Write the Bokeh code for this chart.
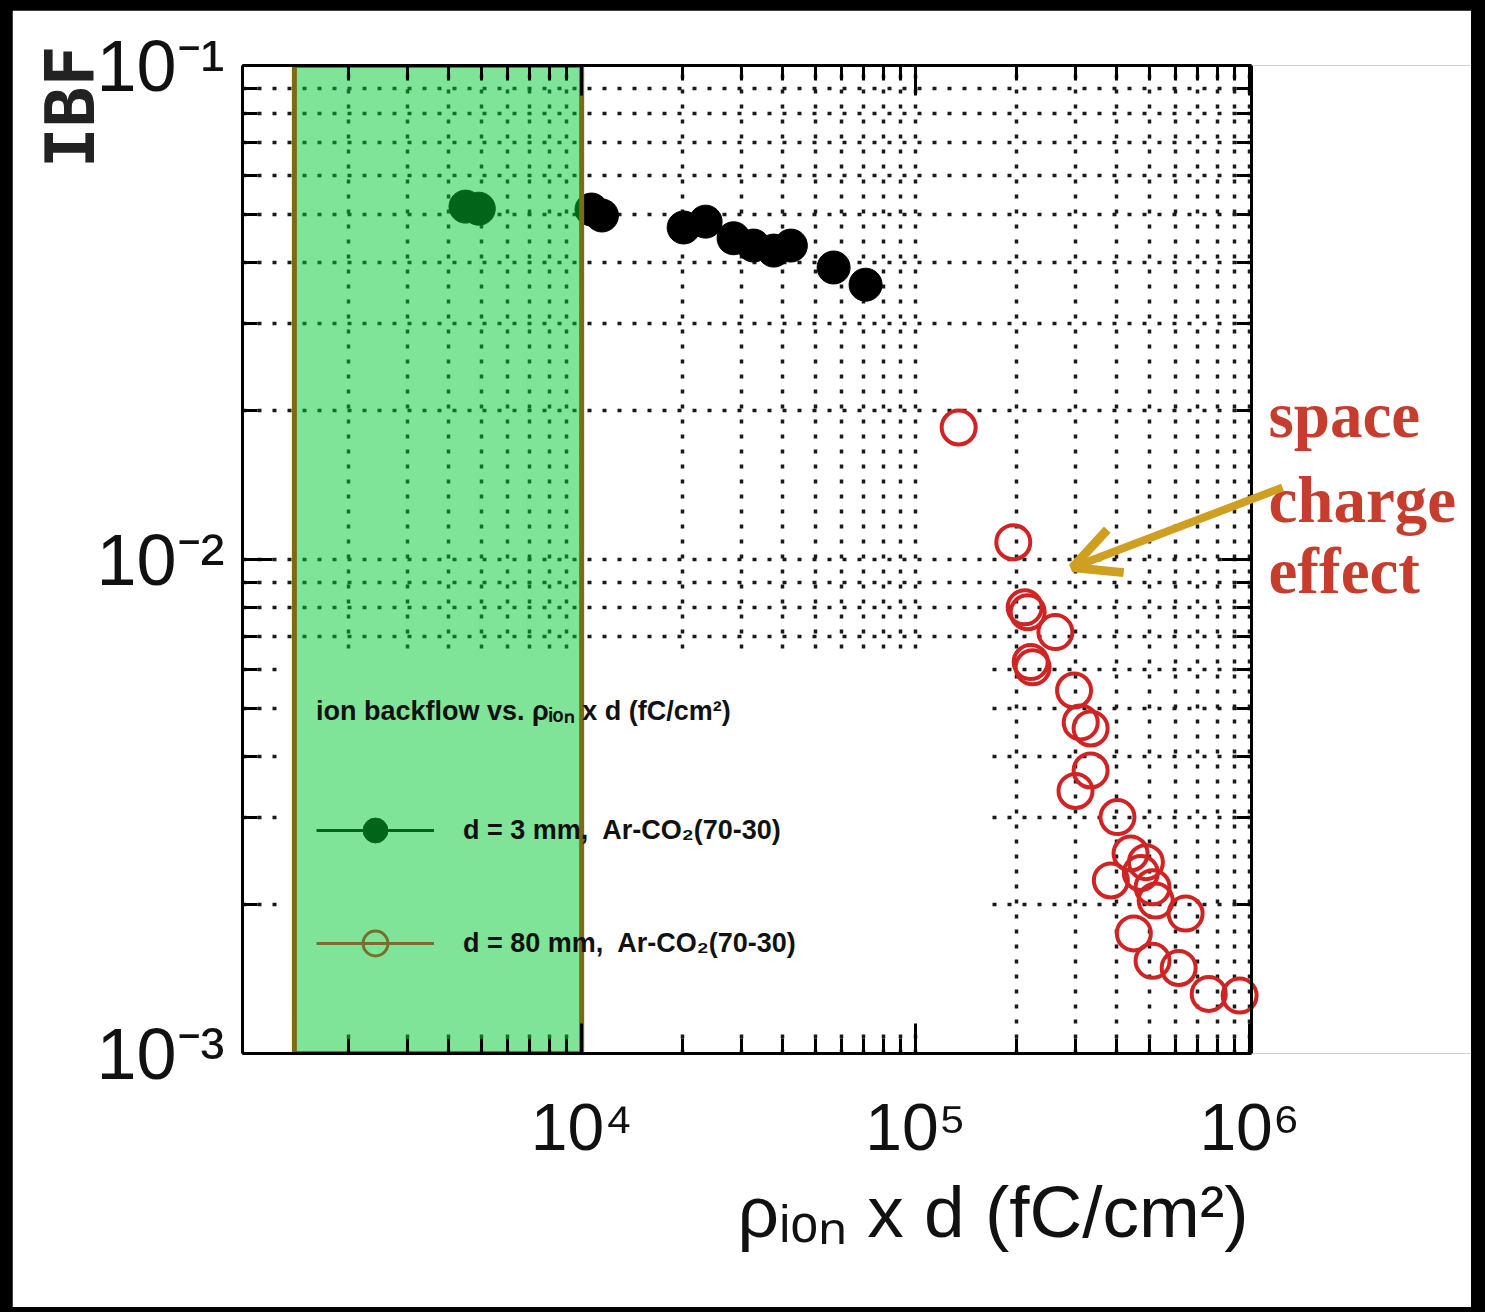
import math
from bokeh.plotting import figure
from bokeh.models import (Range1d, FixedTicker, CustomJSTickFormatter, LogAxis,
                          Legend, LegendItem, Title, Label, Arrow, OpenHead,
                          BoxAnnotation)
from bokeh.layouts import column
from bokeh.embed import file_html
from bokeh.resources import INLINE

# ---------------- data ----------------
# d = 3 mm, Ar-CO2 (70-30)  -> filled markers
rho_d_3mm = [4.49e3, 4.92e3, 1.07e4, 1.15e4, 2.02e4, 2.35e4, 2.85e4, 3.27e4,
             3.76e4, 4.23e4, 5.68e4, 7.08e4]
ibf_3mm = [0.0518, 0.0513, 0.0511, 0.0497, 0.0470, 0.0483, 0.0447, 0.0432,
           0.0422, 0.0432, 0.0390, 0.0360]

# d = 80 mm, Ar-CO2 (70-30) -> open markers
rho_d_80mm = [1.345e5, 1.96e5, 2.12e5, 2.165e5, 2.62e5, 2.21e5, 2.24e5, 2.98e5,
              3.12e5, 3.34e5, 3.34e5, 3.01e5, 4.02e5, 4.40e5, 4.89e5, 4.72e5,
              3.84e5, 5.12e5, 5.23e5, 6.43e5, 4.50e5, 5.12e5, 6.13e5, 7.54e5,
              9.33e5]
ibf_80mm = [0.0185, 0.01084, 0.0080, 0.00782, 0.00713, 0.0062, 0.00605, 0.00543,
            0.00468, 0.00455, 0.00374, 0.0034, 0.00301, 0.00254, 0.00244, 0.00232,
            0.00224, 0.00217, 0.00204, 0.00192, 0.00175, 0.00154, 0.00149, 0.00132,
            0.00131]

# highlighted band (x extent)
band_x = [1380, 1.0e4]

# axis extents of the drawn box
x_lo, x_hi_axis = 965, 1.015e6
y_lo, y_hi = 1e-3, 1e-1

x_major = [1e4, 1e5, 1e6]
x_minor = [k * 10 ** n for n in (3, 4, 5) for k in range(2, 10)]
y_major = [1e-3, 1e-2, 1e-1]
y_minor = [k * 10 ** n for n in (-3, -2) for k in range(2, 10)]

legend_title = "ion backflow vs. \u03c1\u1d62\u2092\u2099 x d (fC/cm\u00b2)"
label_3mm = "d = 3 mm,  Ar-CO\u2082(70-30)"
label_80mm = "d = 80 mm,  Ar-CO\u2082(70-30)"
x_title = "\u03c1\u1d62\u2092\u2099 x d (fC/cm\u00b2)"
y_title = "IBF"
note_lines = ["space", "charge", "effect"]

NAN = float("nan")

# ---------------- geometry ----------------
PAD_T, PAD_R, PAD_B, PAD_L = 10, 14, 5, 12
FIG_W, FIG_H = 1485 - PAD_L - PAD_R, 1312 - PAD_T - PAD_B
B_LEFT, B_RIGHT, B_TOP, B_BOTTOM = 242 - PAD_L, 0, 65 - PAD_T, 1312 - PAD_B - 1053
FRAME_W = FIG_W - B_LEFT - B_RIGHT
DECADE_PX = 334.0
x_hi_frame = 10 ** (math.log10(x_lo) + FRAME_W / DECADE_PX)

p = figure(width=FIG_W, height=FIG_H, x_axis_type="log", y_axis_type="log",
           x_range=Range1d(x_lo, x_hi_frame), y_range=Range1d(y_lo, y_hi),
           output_backend="svg", toolbar_location=None, title=None,
           min_border_left=B_LEFT, min_border_right=B_RIGHT,
           min_border_top=B_TOP, min_border_bottom=B_BOTTOM)
p.background_fill_color = "white"
p.border_fill_color = "white"
p.outline_line_color = None

xt = FixedTicker(ticks=x_major, minor_ticks=x_minor)
yt = FixedTicker(ticks=y_major, minor_ticks=y_minor)

fmt = CustomJSTickFormatter(code="""
const sup = {"-": "\\u207b", "0": "\\u2070", "1": "\\u00b9", "2": "\\u00b2", "3": "\\u00b3",
             "4": "\\u2074", "5": "\\u2075", "6": "\\u2076", "7": "\\u2077", "8": "\\u2078", "9": "\\u2079"};
const e = Math.round(Math.log10(tick));
let s = "";
for (const c of String(e)) { s += sup[c]; }
return "10" + s;
""")
blank = CustomJSTickFormatter(code="return '';")

def style_axis(ax):
    ax.axis_line_color = "black"
    ax.axis_line_width = 3
    ax.major_tick_in = 30
    ax.major_tick_out = 0
    ax.minor_tick_in = 15
    ax.minor_tick_out = 0
    ax.major_tick_line_color = "black"
    ax.major_tick_line_width = 3
    ax.minor_tick_line_color = "black"
    ax.minor_tick_line_width = 3
    ax.major_label_text_font = "Liberation Sans"
    ax.major_label_text_color = "#111111"

xa = p.xaxis[0]
xa.ticker = xt
xa.formatter = fmt
xa.bounds = (x_lo, x_hi_axis)
style_axis(xa)
xa.major_label_text_font_size = "66px"
xa.major_label_standoff = 36

ya = p.yaxis[0]
ya.ticker = yt
ya.formatter = fmt
style_axis(ya)
ya.major_label_text_font_size = "72px"
ya.major_label_standoff = 18

top_ax = LogAxis(ticker=xt, formatter=blank, major_label_standoff=0,
                 bounds=(x_lo, x_hi_axis))
style_axis(top_ax)
top_ax.major_label_text_font_size = "1px"
p.add_layout(top_ax, "above")

right_ax = LogAxis(ticker=yt, formatter=blank, major_label_standoff=0,
                   fixed_location=x_hi_axis)
style_axis(right_ax)
right_ax.major_label_text_font_size = "1px"
p.add_layout(right_ax, "right")

for g, t in ((p.xgrid[0], xt), (p.ygrid[0], yt)):
    g.ticker = t
    g.grid_line_color = "#1a1a1a"
    g.grid_line_width = 3.5
    g.grid_line_dash = "4 11"
    g.minor_grid_line_color = "#1a1a1a"
    g.minor_grid_line_width = 3.5
    g.minor_grid_line_dash = "4 11"

# blank out the grid right of the box and under the legend
p.add_layout(BoxAnnotation(left=x_hi_axis, fill_color="white", fill_alpha=1,
                           line_color=None, level="underlay"))
p.add_layout(BoxAnnotation(left=43, right=743, bottom=28, top=403,
                           left_units="screen", right_units="screen",
                           bottom_units="screen", top_units="screen",
                           fill_color="white", fill_alpha=1, line_color=None,
                           level="underlay"))

# ---------------- data glyphs ----------------
red = "#d02424"
r3 = p.scatter(rho_d_3mm, ibf_3mm, marker="circle", size=33,
               fill_color="black", line_color="black")
r80 = p.scatter(rho_d_80mm, ibf_80mm, marker="circle", size=34,
                fill_color=None, line_color=red, line_width=4)

# translucent green band drawn over the data
p.quad(left=[band_x[0]], right=[band_x[1]], bottom=[y_lo], top=[y_hi],
       fill_color=(0, 200, 50), fill_alpha=0.5,
       line_color="#7d6a14", line_width=5)

# legend samples (seen through the green band)
l3 = p.line(x=[NAN, NAN], y=[NAN, NAN], line_color="#006419", line_width=3)
m3 = p.scatter(x=[NAN], y=[NAN], marker="circle", fill_color="#006419",
               line_color="#006419")
l80 = p.line(x=[NAN, NAN], y=[NAN, NAN], line_color="#7a6e2a", line_width=3)
m80 = p.scatter(x=[NAN], y=[NAN], marker="circle", fill_color=None,
                line_color="#7a6e2a", line_width=3)

legend = Legend(items=[LegendItem(label=label_3mm, renderers=[l3, m3]),
                       LegendItem(label=label_80mm, renderers=[l80, m80])],
                location=(34, 39), title=legend_title,
                glyph_width=118, glyph_height=62, label_height=62,
                label_width=482, label_standoff=29, spacing=51, padding=40,
                margin=0, title_standoff=71,
                border_line_alpha=0, background_fill_alpha=0,
                label_text_font="Liberation Sans", label_text_font_style="bold",
                label_text_font_size="27px", label_text_color="#111111",
                title_text_font="Liberation Sans", title_text_font_style="bold",
                title_text_font_size="27px", title_text_color="#111111")
p.add_layout(legend)

# ---------------- note + arrow (inside the wide frame) ----------------
for txt, yy in zip(note_lines, (639, 554, 483)):
    p.add_layout(Label(x=1026, y=yy, x_units="screen", y_units="screen", text=txt,
                       text_baseline="alphabetic", text_font="Liberation Serif",
                       text_font_style="bold", text_font_size="65px",
                       text_color="#c63c2d"))

gold = "#cf9f22"
p.add_layout(Arrow(end=OpenHead(size=46, line_width=9, line_color=gold),
                   x_start=1040, y_start=566, x_end=830, y_end=486,
                   start_units="screen", end_units="screen",
                   line_width=8, line_color=gold))

# ---------------- axis titles ----------------
p.add_layout(Title(text=y_title, align="right", standoff=-32, offset=-20,
                   text_font="DejaVu Sans Mono", text_font_style="bold",
                   text_font_size="68px", text_color="#222222"), "left")
p.add_layout(Title(text=x_title, align="left", offset=495, standoff=4,
                   text_font="Liberation Sans", text_font_style="normal",
                   text_font_size="73px", text_color="#111111"), "below")

layout = column(p, styles={"background-color": "black",
                           "padding": f"{PAD_T}px {PAD_R}px {PAD_B}px {PAD_L}px"})

open("out.html", "w").write(file_html(layout, INLINE))
